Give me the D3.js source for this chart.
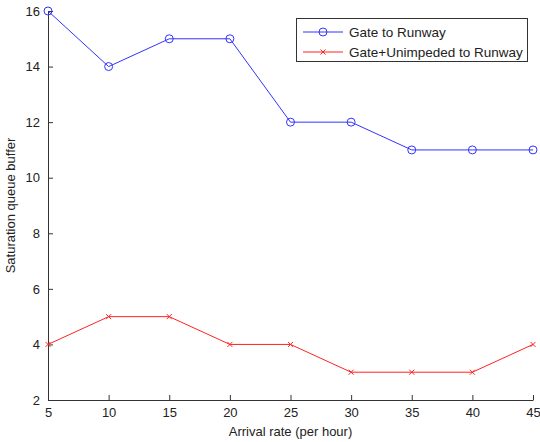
<!DOCTYPE html>
<html><head><meta charset="utf-8">
<script src="https://cdn.jsdelivr.net/npm/d3@7"></script>
<style>body{margin:0;background:#fff}svg{display:block}text{font-family:Arial,"Liberation Sans",sans-serif;fill:#222}</style>
</head><body><svg id="c" width="540" height="442"></svg>
<script>
const arrivalRates = [5,10,15,20,25,30,35,40,45];
const gateToRunway = [16,14,15,15,12,12,11,11,11];
const gateUnimpeded = [4,5,5,4,4,3,3,3,4];
const xTicks = [5,10,15,20,25,30,35,40,45];
const yTicks = [2,4,6,8,10,12,14,16];
const seriesNames = ["Gate to Runway","Gate+Unimpeded to Runway"];

const svg = d3.select("#c");
const L=48,R=533,T=11,B=400;
const x = d3.scaleLinear().domain([5,45]).range([L,R]);
const y = d3.scaleLinear().domain([2,16]).range([B,T]);

const xa = svg.append("g").attr("transform",`translate(0,${B})`)
  .call(d3.axisBottom(x).tickValues(xTicks).tickSizeInner(-5).tickSizeOuter(0).tickPadding(8));
const ya = svg.append("g").attr("transform",`translate(${L},0)`)
  .call(d3.axisLeft(y).tickValues(yTicks).tickSizeInner(-5).tickSizeOuter(0).tickPadding(8));
[xa,ya].forEach(a=>{a.selectAll("path,line").attr("stroke","#333");a.selectAll("text").attr("font-size",13).style("fill","#222").attr("font-family","Arial, Liberation Sans, sans-serif");});

svg.append("text").attr("x",(L+R)/2).attr("y",436).attr("text-anchor","middle").attr("font-size",13).text("Arrival rate (per hour)");
svg.append("text").attr("transform",`translate(15,${(T+B)/2}) rotate(-90)`).attr("text-anchor","middle").attr("font-size",13).text("Saturation queue buffer");

const line = d3.line().x((d,i)=>x(arrivalRates[i])).y(d=>y(d));
svg.append("path").datum(gateToRunway).attr("d",line).attr("fill","none").attr("stroke","#3333ff").attr("stroke-width",1);
svg.append("path").datum(gateUnimpeded).attr("d",line).attr("fill","none").attr("stroke","#ff2222").attr("stroke-width",1);

svg.selectAll("circle.m").data(gateToRunway).enter().append("circle")
  .attr("cx",(d,i)=>x(arrivalRates[i])).attr("cy",d=>y(d)).attr("r",4)
  .attr("fill","none").attr("stroke","#3333ff");
function cross(g,cx,cy,s){g.append("path").attr("d",`M${cx-s},${cy-s}L${cx+s},${cy+s}M${cx-s},${cy+s}L${cx+s},${cy-s}`).attr("stroke","#ff2222").attr("fill","none");}
const xg = svg.append("g");
gateUnimpeded.forEach((d,i)=>cross(xg,x(arrivalRates[i]),y(d),2.5));

// legend
const lg = svg.append("g");
lg.append("rect").attr("x",296.5).attr("y",18.5).attr("width",231).attr("height",43).attr("fill","#fff").attr("stroke","#333");
lg.append("line").attr("x1",303).attr("x2",343).attr("y1",32).attr("y2",32).attr("stroke","#3333ff");
lg.append("circle").attr("cx",323).attr("cy",32).attr("r",4).attr("fill","none").attr("stroke","#3333ff");
lg.append("line").attr("x1",303).attr("x2",343).attr("y1",52).attr("y2",52).attr("stroke","#ff2222");
cross(lg,323,52,2.5);
lg.append("text").attr("x",349).attr("y",37).attr("font-size",13.5).text(seriesNames[0]);
lg.append("text").attr("x",349).attr("y",57).attr("font-size",13.5).text(seriesNames[1]);
</script></body></html>
